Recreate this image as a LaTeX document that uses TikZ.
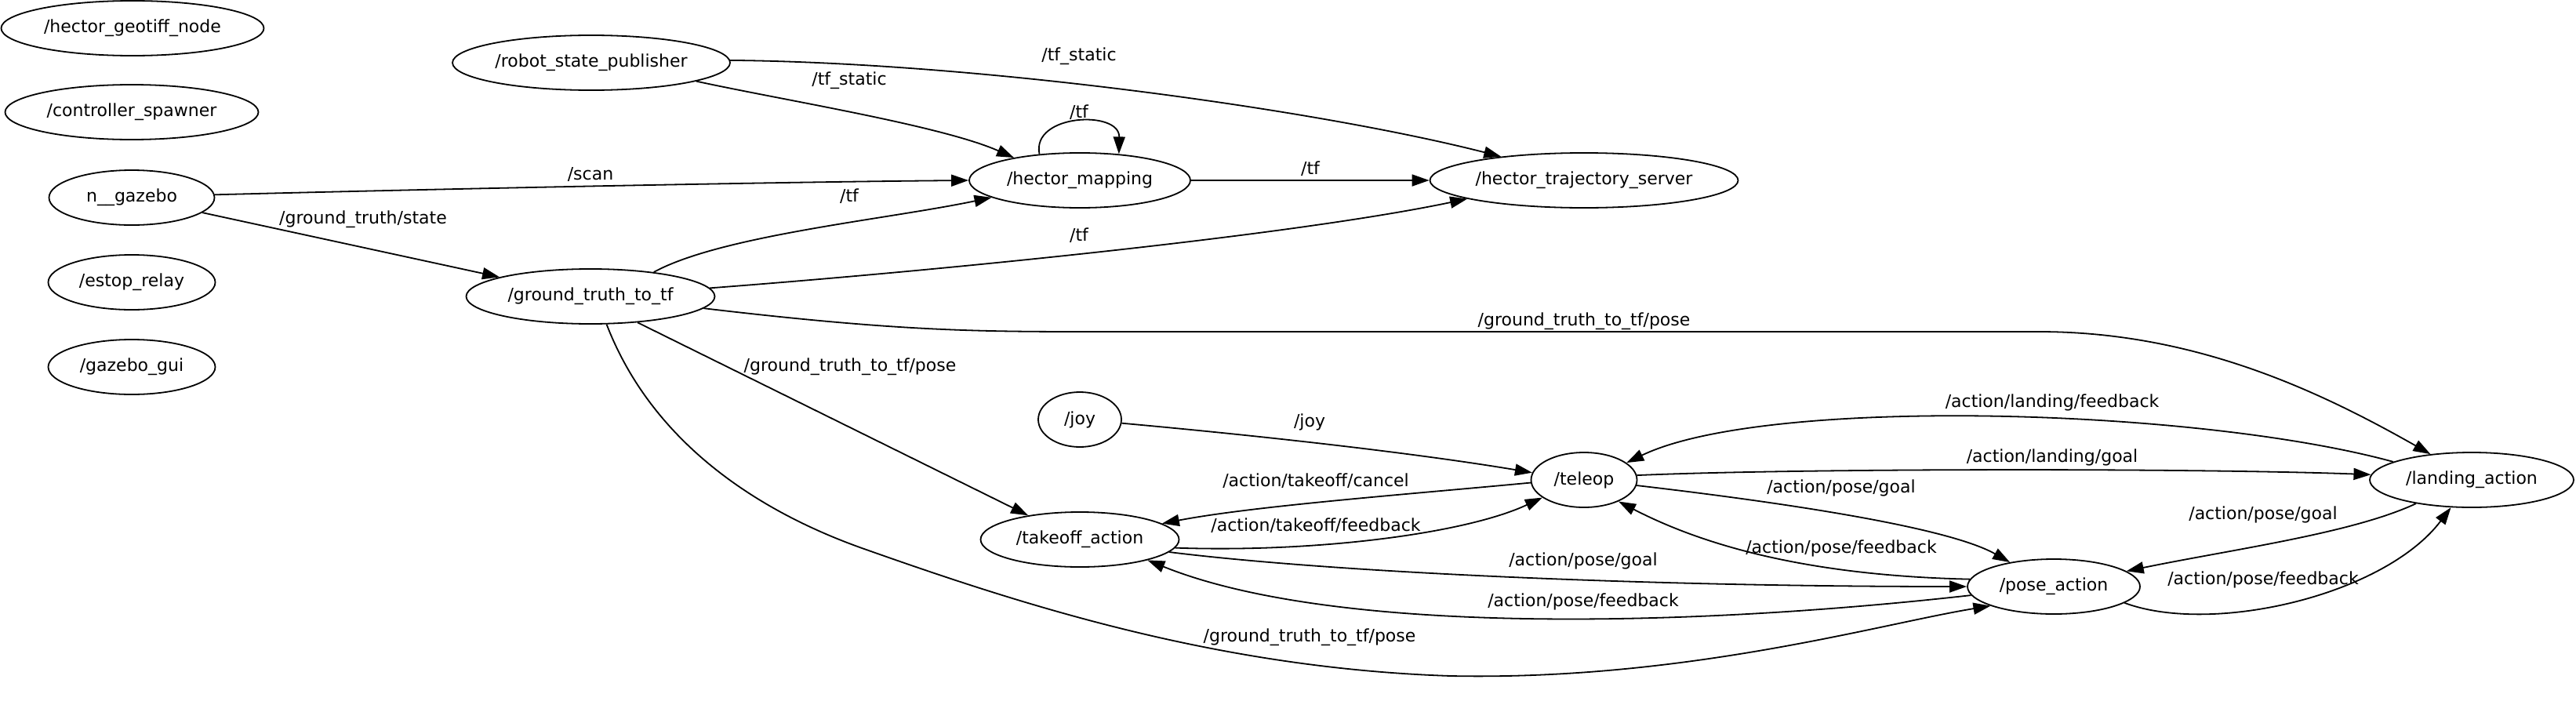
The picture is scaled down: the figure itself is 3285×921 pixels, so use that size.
\documentclass[tikz,border=0pt]{standalone}
\usepackage{fontspec}
\setmainfont{DejaVu Sans}
\usetikzlibrary{arrows.meta,shapes.geometric}
\begin{document}
\begin{tikzpicture}[x=1pt,y=-1pt,
  rosnode/.style={draw, ellipse, line width=1.8pt, minimum height=70pt, inner sep=0pt, font=\fontsize{22}{26}\selectfont},
  lbl/.style={inner sep=0pt, font=\fontsize{22}{26}\selectfont},
  edge/.style={draw, line width=1.8pt, -{Triangle[length=22pt,width=15pt]}}]
\useasboundingbox (0,0) rectangle (3285,921);
% nodes
\node[rosnode, minimum width=335pt] (geo) at (169,36) {/hector\_geotiff\_node};
\node[rosnode, minimum width=323pt] (ctrl) at (168,143) {/controller\_spawner};
\node[rosnode, minimum width=211pt] (gaz) at (168,252) {n\_\_gazebo};
\node[rosnode, minimum width=213pt] (estop) at (168,360) {/estop\_relay};
\node[rosnode, minimum width=213pt] (gui) at (168,468) {/gazebo\_gui};
\node[rosnode, minimum width=354pt] (rsp) at (754,80) {/robot\_state\_publisher};
\node[rosnode, minimum width=317pt] (gt) at (753,378) {/ground\_truth\_to\_tf};
\node[rosnode, minimum width=282pt] (hm) at (1377,230) {/hector\_mapping};
\node[rosnode, minimum width=393pt] (traj) at (2020,230) {/hector\_trajectory\_server};
\node[rosnode, minimum width=106pt] (joy) at (1377,535) {/joy};
\node[rosnode, minimum width=135pt] (teleop) at (2020,612) {/teleop};
\node[rosnode, minimum width=253pt] (takeoff) at (1377,688) {/takeoff\_action};
\node[rosnode, minimum width=260pt] (landing) at (3152,612) {/landing\_action};
\node[rosnode, minimum width=220pt] (pose) at (2619,748) {/pose\_action};
% labels
\node[lbl] (l1) at (1376,72) {/tf\_static};
\node[lbl] (l2) at (1083,103) {/tf\_static};
\node[lbl] (l3) at (1376,143) {/tf};
\node[lbl] (l4) at (753,222) {/scan};
\node[lbl] (l5) at (463,280) {/ground\_truth/state};
\node[lbl] (l6) at (1671,215) {/tf};
\node[lbl] (l7) at (1083,250) {/tf};
\node[lbl] (l8) at (1376,300) {/tf};
\node[lbl] (l9) at (2020,410) {/ground\_truth\_to\_tf/pose};
\node[lbl] (l10) at (1084,468) {/ground\_truth\_to\_tf/pose};
\node[lbl] (l11) at (1670,813) {/ground\_truth\_to\_tf/pose};
\node[lbl] (l12) at (1670,538) {/joy};
\node[lbl] (l13) at (1678,613) {/action/takeoff/cancel};
\node[lbl] (l14) at (1678,670) {/action/takeoff/feedback};
\node[lbl] (l15) at (2019,715) {/action/pose/goal};
\node[lbl] (l16) at (2019,767) {/action/pose/feedback};
\node[lbl] (l17) at (2617,513) {/action/landing/feedback};
\node[lbl] (l18) at (2617,583) {/action/landing/goal};
\node[lbl] (l19) at (2348,622) {/action/pose/goal};
\node[lbl] (l20) at (2348,699) {/action/pose/feedback};
\node[lbl] (l21) at (2886,656) {/action/pose/goal};
\node[lbl] (l22) at (2886,739) {/action/pose/feedback};
% edges
\draw[edge] (rsp.1) .. controls (1250,80) and (1680,140) .. (traj.164);
\draw[edge] (rsp.350) .. controls (1000,128) and (1200,160) .. (hm.161);
\draw[edge] (hm.147) .. controls (1315,145) and (1428,140) .. (hm.34);
\draw[edge] (gaz.2) .. controls (600,240) and (1000,232) .. (hm.180);
\draw[edge] (gaz.348) -- (gt.168);
\draw[edge] (hm.east) -- (traj.west);
\draw[edge] (gt.21) .. controls (920,300) and (1130,280) .. (hm.191);
\draw[edge] (gt.4) .. controls (1200,345) and (1650,300) .. (traj.189);
\draw[edge] (gt.354) .. controls (1150,423) and (1250,423) .. (1400,423) -- (2600,423) .. controls (2800,423) and (2960,500) .. (landing.148);
\draw[edge] (gt.331) -- (takeoff.155);
\draw[edge] (gt.300) .. controls (830,560) and (960,650) .. (1102,700) .. controls (1300,770) and (1550,852) .. (1850,862) .. controls (2150,868) and (2400,795) .. (pose.197);
\draw[edge] (joy.355) .. controls (1600,555) and (1800,577) .. (teleop.172);
\draw[edge] (teleop.183) .. controls (1800,630) and (1600,645) .. (takeoff.11);
\draw[edge] (takeoff.355) .. controls (1680,705) and (1870,680) .. (teleop.203);
\draw[edge] (takeoff.352) .. controls (1700,730) and (2100,748) .. (pose.west);
\draw[edge] (pose.186) .. controls (2150,800) and (1700,810) .. (takeoff.343);
\draw[edge] (teleop.5) .. controls (2300,597) and (2800,597) .. (landing.177);
\draw[edge] (landing.167) .. controls (2800,520) and (2250,505) .. (teleop.22);
\draw[edge] (teleop.354) .. controls (2250,638) and (2480,670) .. (pose.151);
\draw[edge] (pose.175) .. controls (2350,735) and (2200,710) .. (teleop.328);
\draw[edge] (landing.203) .. controls (3000,680) and (2850,700) .. (pose.12);
\draw[edge] (pose.347) .. controls (2820,810) and (3040,760) .. (landing.233);
\end{tikzpicture}
\end{document}
